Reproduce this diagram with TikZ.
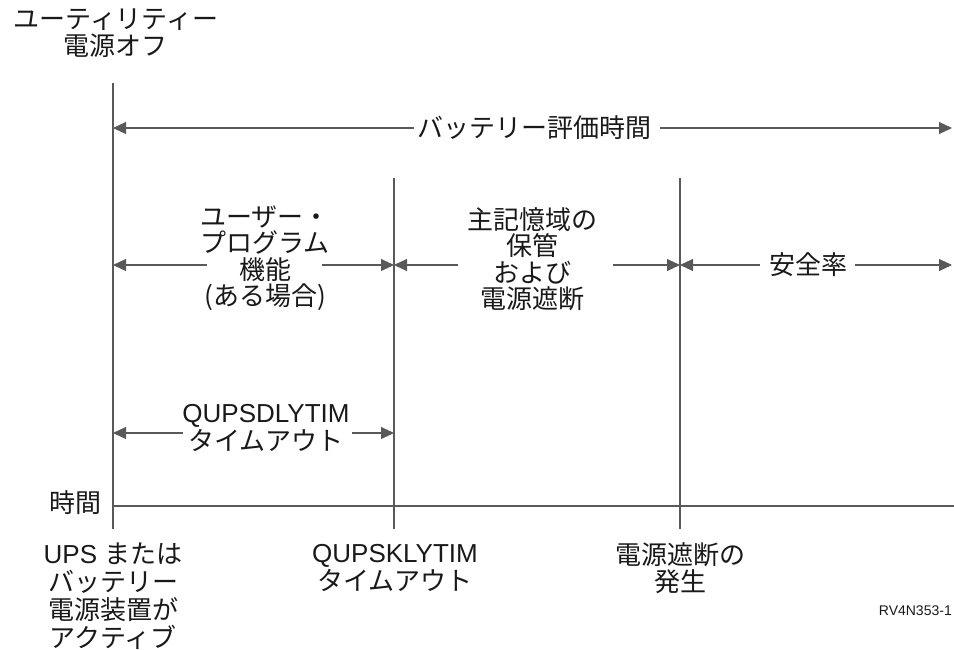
\documentclass[tikz,border=0pt]{standalone}
\usepackage{fontspec}
\setmainfont{Liberation Sans}
\newfontfamily\jp{Noto Sans CJK JP}
\usetikzlibrary{arrows.meta}
\tikzset{
  rule/.style={draw=black!65, line width=1.1pt},
  span/.style={rule, -{Triangle[length=13pt,width=12pt]}},
  lbl/.style={align=center, inner sep=0pt, text=black!90,
    font=\jp\fontsize{26}{26.5}\selectfont},
  lat/.style={lbl, font=\fontsize{26}{28}\selectfont},
}

\begin{document}
\begin{tikzpicture}[x=1pt, y=-1pt]
    \useasboundingbox (0,0) rectangle (954,649);

    % vertical marks and the time axis
    \coordinate (u0) at (113,83);   \coordinate (u1) at (113,529);
    \coordinate (k0) at (394,178);  \coordinate (k1) at (394,529);
    \coordinate (s0) at (680,178);  \coordinate (s1) at (680,529);
    \coordinate (a0) at (113,506);  \coordinate (a1) at (954,506);
    \draw[rule] (u0) -- (u1);
    \draw[rule] (k0) -- (k1);
    \draw[rule] (s0) -- (s1);
    \draw[rule] (a0) -- (a1);

    % labels
    \node[lbl] (util) at (116,33) {ユーティリティー\\電源オフ};
    \node[lbl] (eval) at (534,128) {バッテリー評価時間};
    \node[lbl] (user) at (265,258) {ユーザー・\\プログラム\\機能\\(ある場合)};
    \node[lbl] (save) at (532,259) {主記憶域の\\保管\\および\\電源遮断};
    \node[lbl] (safe) at (808,265) {安全率};
    \node[lat] (dly) at (266,428) {QUPSDLYTIM\\{\jp タイムアウト}};
    \node[lbl, anchor=east] (time) at (102,503) {時間};
    \node[lat] (ups) at (113,596) {UPS {\jp または}\\{\jp バッテリー}\\{\jp 電源装置が}\\{\jp アクティブ}};
    \node[lat] (skl) at (395,568) {QUPSKLYTIM\\{\jp タイムアウト}};
    \node[lbl] (pwr) at (680,568) {電源遮断の\\発生};
    \node[anchor=east, inner sep=0pt, text=black!90, font=\fontsize{14}{16}\selectfont] (fig) at (952,611) {RV4N353-1};

    % spans
    \coordinate (eL) at (113,128);  \coordinate (eR) at (952,128);
    \draw[span] ([xshift=-3pt]eval.west) -- (eL);
    \draw[span] ([xshift=9pt]eval.east) -- (eR);

    \coordinate (uB) at (113,265);  \coordinate (kB) at (394,265);
    \coordinate (sB) at (680,265);  \coordinate (rB) at (952,265);
    \coordinate (userL) at (207,265);  \coordinate (userR) at (322,265);
    \coordinate (saveL) at (458,265);  \coordinate (saveR) at (613,265);
    \coordinate (safeL) at (760,265);  \coordinate (safeR) at (855,265);
    \draw[span] (userL) -- (uB);
    \draw[span] (userR) -- (kB);
    \draw[span] (saveL) -- (kB);
    \draw[span] (saveR) -- (sB);
    \draw[span] (safeL) -- (sB);
    \draw[span] (safeR) -- (rB);

    \coordinate (dB) at (113,433);  \coordinate (dE) at (394,433);
    \coordinate (dlyL) at (183,433);  \coordinate (dlyR) at (352,433);
    \draw[span] (dlyL) -- (dB);
    \draw[span] (dlyR) -- (dE);
\end{tikzpicture}
\end{document}
